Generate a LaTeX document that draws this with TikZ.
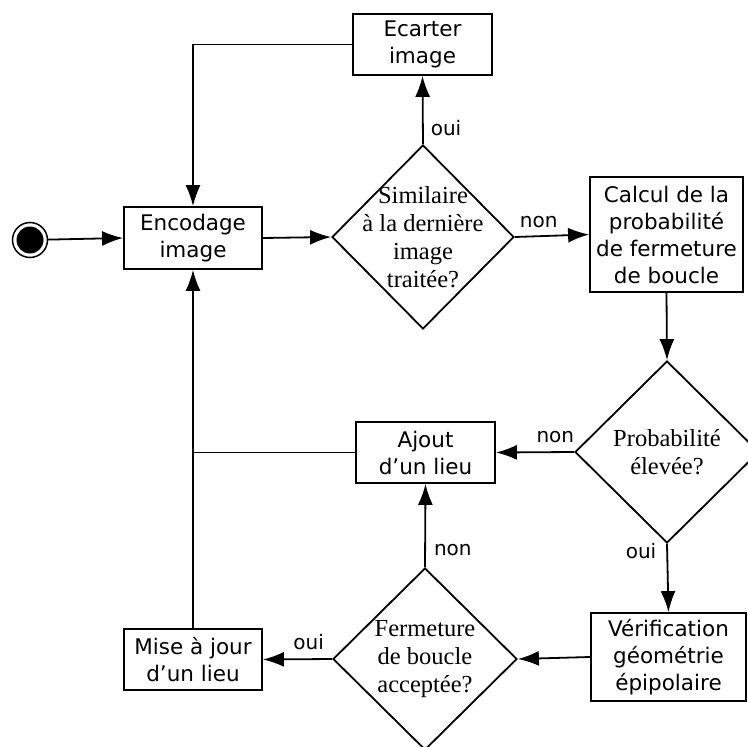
\documentclass[tikz,border=0pt]{standalone}
\usepackage{fontspec}
\setmainfont{DejaVu Sans}
\newfontfamily\dfont{Liberation Serif}
\usetikzlibrary{shapes.geometric,arrows.meta}
\begin{document}
\begin{tikzpicture}[x=1pt,y=-1pt,
  box/.style={draw,line width=1.8pt,rectangle,inner sep=0pt,align=center,font=\fontsize{21.5}{27}\selectfont},
  dec/.style={draw,line width=1.8pt,diamond,aspect=1,inner sep=0pt},
  dectext/.style={inner sep=0pt,align=center,font=\dfont\fontsize{24.5}{28}\selectfont},
  arr/.style={line width=1.8pt,-{Latex[length=21pt,width=15pt]}},
  ln/.style={line width=1.8pt},
  lab/.style={font=\fontsize{20}{22}\selectfont,inner sep=0pt}]
\useasboundingbox (0,0) rectangle (748,747);

% start
\node[circle,draw,line width=1.5pt,minimum size=35pt,inner sep=0pt] (start) at (30,240) {};
\node[circle,fill=black,minimum size=27pt,inner sep=0pt] (startdot) at (start.center) {};

% boxes
\node[box,minimum width=138pt,minimum height=62pt] (enc) at (193,238) {Encodage\\image};
\node[box,minimum width=139pt,minimum height=61pt] (ecart) at (422.5,44.5) {Ecarter\\image};
\node[box,minimum width=153pt,minimum height=115pt] (calc) at (666.5,234.5) {Calcul de la\\probabilit\'e\\de fermeture\\de boucle};
\node[box,minimum width=139pt,minimum height=61pt] (ajout) at (425.5,452.5) {Ajout\\d'un lieu};
\node[box,minimum width=155pt,minimum height=88pt] (verif) at (668.5,657) {V\'erification\\g\'eom\'etrie\\\'epipolaire};
\node[box,minimum width=138pt,minimum height=61pt] (maj) at (193,659.5) {Mise \`a jour\\d'un lieu};

% decisions
\node[dec,minimum width=182pt,minimum height=184pt] (d1) at (423,237) {};
\node[dectext] (d1t) at (d1.center) {Similaire\\\`a la derni\`ere\\image\\trait\'ee?};
\node[dec,minimum width=184pt,minimum height=182pt] (d2) at (667,452) {};
\node[dectext] (d2t) at (d2.center) {Probabilit\'e\\\'elev\'ee?};
\node[dec,minimum width=184pt,minimum height=182pt] (d3) at (425,659) {};
\node[dectext] (d3t) at (d3.center) {Fermeture\\de boucle\\accept\'ee?};

% connectors
\draw[arr] (start) -- (enc.west);
\draw[arr] (enc.east) -- (d1.west);
\draw[arr] (d1.east) -- node[lab,pos=0.32,anchor=south,yshift=8pt] {non} (calc.west);
\draw[arr] (d1.north) -- node[lab,pos=0.24,anchor=west,xshift=7pt] {oui} (ecart.south);
\draw[arr] (ecart.west) -| (enc.north);
\draw[arr] (calc.south) -- (d2.north);
\draw[arr] (d2.west) -- node[lab,pos=0.24,anchor=south,yshift=8pt] {non} (ajout.east);
\draw[arr] (d2.south) -- node[lab,pos=0.11,anchor=east,xshift=-10pt] {oui} (verif.north);
\draw[arr] (verif.west) -- (d3.east);
\draw[arr] (d3.west) -- node[lab,pos=0.34,anchor=south,yshift=8pt] {oui} (maj.east);
\draw[arr] (d3.north) -- node[lab,pos=0.2,anchor=west,xshift=8pt] {non} (ajout.south);
\draw[ln] (ajout.west) -- (ajout.west -| enc.north);
\draw[arr] (maj.north) -- (enc.south);
\end{tikzpicture}
\end{document}
